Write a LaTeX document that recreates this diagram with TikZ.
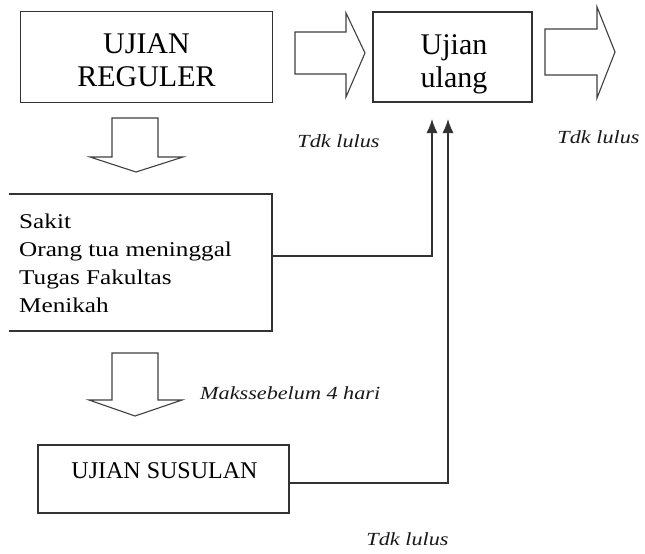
\documentclass[tikz,border=0pt]{standalone}
\usepackage{fontspec}
\setmainfont{Liberation Serif}
\newfontfamily\titlef{Liberation Serif}
\newfontfamily\listf[FakeStretch=1.2]{Liberation Serif}
\newfontfamily\labf[FakeStretch=1.2]{Liberation Serif}
\usetikzlibrary{arrows.meta}
\begin{document}
\begin{tikzpicture}[x=1pt,y=-1pt]
\tikzset{
  frame/.style={draw=black!80, line width=1.4pt, inner sep=0pt, outer sep=0pt},
  frameline/.style={draw=black!80, line width=1.4pt},
  holder/.style={inner sep=0pt, outer sep=0pt},
  blockarrow/.style={draw=black!75, line width=1.1pt, fill=white, line join=miter},
  conn/.style={draw=black!80, line width=1.3pt, -{Latex[length=14pt,width=11pt]}},
  bigtext/.style={font=\titlef\fontsize{30}{36}\selectfont, inner sep=0pt, anchor=base, text=black},
  midtext/.style={font=\titlef\fontsize{24}{29}\selectfont, inner sep=0pt, anchor=base, text=black},
  listtext/.style={font=\listf\fontsize{21}{28}\selectfont, inner sep=0pt, anchor=base west, text=black},
  note/.style={font=\labf\itshape\fontsize{18.5}{22}\selectfont, inner sep=0pt, anchor=base, text=black!90},
}
\useasboundingbox (0,0) rectangle (645,554);
\fill[white] (0,0) rectangle (645,554);

% UJIAN REGULER
\node[frame, minimum width=252pt, minimum height=91pt] (reg) at (146.5,57) {};
\node[bigtext] (regA) at (146.5,53) {UJIAN};
\node[bigtext] (regB) at (146.5,86) {REGULER};

% Ujian ulang
\node[frame, minimum width=159pt, minimum height=90pt] (ulang) at (452.5,57) {};
\node[bigtext] (ulangA) at (454,54) {Ujian};
\node[bigtext] (ulangB) at (454,87) {ulang};

% block arrows
\draw[blockarrow] (295,32) -- (346,32) -- (346,13) -- (365,53) -- (346,97) -- (346,74) -- (295,74) -- cycle;
\draw[blockarrow] (545,29) -- (597,29) -- (597,7) -- (615,52) -- (597,98) -- (597,75) -- (545,75) -- cycle;
\draw[blockarrow] (112,118) -- (158,118) -- (158,157) -- (183,157) -- (136,172) -- (90,157) -- (112,157) -- cycle;
\draw[blockarrow] (112,353) -- (158,353) -- (158,400) -- (182,400) -- (135,416) -- (89,400) -- (112,400) -- cycle;

% reasons box (left edge not drawn)
\node[holder, minimum width=263pt, minimum height=137pt] (sak) at (140.5,262.5) {};
\draw[frameline] (sak.north west) -- (sak.north east) -- (sak.south east) -- (sak.south west);
\node[listtext] (l1) at (19,228) {Sakit};
\node[listtext] (l2) at (19,256) {Orang tua meninggal};
\node[listtext] (l3) at (19,284) {Tugas Fakultas};
\node[listtext] (l4) at (19,312) {Menikah};

% UJIAN SUSULAN
\node[frame, minimum width=251pt, minimum height=68pt] (sus) at (163.5,479) {};
\node[midtext] (susT) at (164.5,478) {UJIAN SUSULAN};

% labels
\node[note] (n1) at (338.5,147) {Tdk lulus};
\node[note] (n2) at (598.5,143) {Tdk lulus};
\node[note] (n3) at (407.5,545) {Tdk lulus};
\node[note, anchor=base west] (n4) at (200,399) {Makssebelum 4 hari};

% connectors
\coordinate (t1) at (432,119);
\coordinate (t2) at (448,119);
\draw[conn] ([yshift=6.5pt]sak.east) -| (t1);
\draw[conn] ([yshift=-4pt]sus.east) -| (t2);
\end{tikzpicture}
\end{document}
